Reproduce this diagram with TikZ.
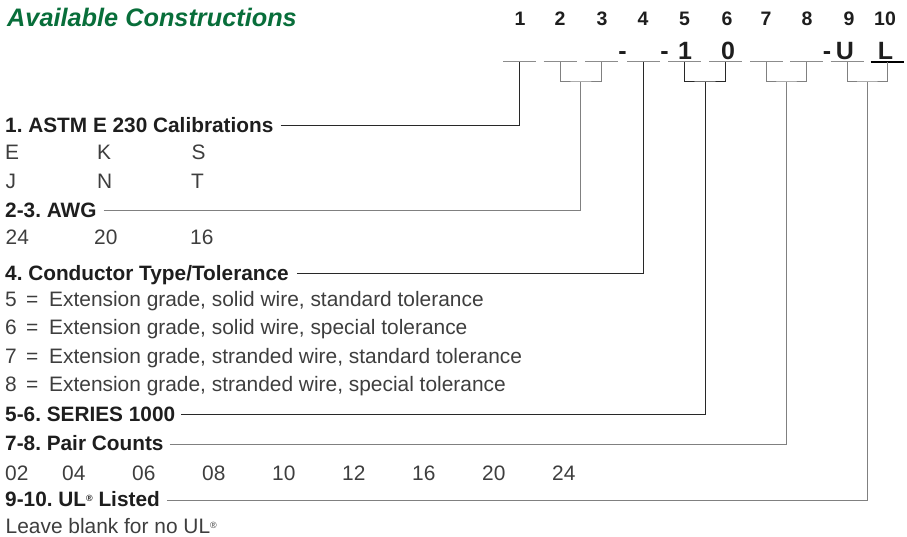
\documentclass[tikz,border=0pt]{standalone}
\usepackage{fontspec}
\setmainfont{Liberation Sans}
\usetikzlibrary{calc}
\frenchspacing
\definecolor{titlegreen}{RGB}{8,110,58}
\definecolor{inkdark}{RGB}{30,30,30}
\definecolor{inkbody}{RGB}{62,62,62}
\definecolor{ruledark}{RGB}{40,40,40}
\definecolor{rulelight}{RGB}{128,128,128}
\definecolor{slotgray}{RGB}{140,140,140}
\newcommand\regmark{\raisebox{5.5pt}{\fontsize{9}{9}\selectfont\textregistered}}
\newcommand\optline[2]{\makebox[21pt][l]{#1}\makebox[23pt][l]{=}#2}

\begin{document}
\begin{tikzpicture}[x=1pt,y=-1pt,
  titletext/.style={anchor=base west, inner sep=0pt, text=titlegreen,
    font=\fontsize{25.3}{30}\selectfont\bfseries\itshape},
  posnum/.style={anchor=base, inner sep=0pt, text=inkdark,
    font=\fontsize{19.5}{23}\selectfont\bfseries},
  codechar/.style={anchor=base, inner sep=0pt, text=inkdark,
    font=\fontsize{25}{30}\selectfont\bfseries},
  head/.style={anchor=west, inner sep=0pt, text height=13pt, text depth=0pt,
    text=inkdark, font=\fontsize{20.8}{24}\selectfont\bfseries},
  body/.style={anchor=base west, inner sep=0pt, text=inkbody,
    font=\fontsize{20.9}{24}\selectfont},
  slotline/.style={draw=slotgray, line width=1pt},
  lastslot/.style={draw=black, line width=1.3pt},
  darkrule/.style={draw=ruledark, line width=1pt},
  lightrule/.style={draw=rulelight, line width=1pt},
]
\useasboundingbox (0,0) rectangle (907,537);

% title
\node[titletext] (title) at (7,27) {Available Constructions};

% code slots (points on the underlines)
\coordinate (s1) at (519.5,62);
\coordinate (s2) at (560,62);
\coordinate (s3) at (601.5,62);
\coordinate (s4) at (643.5,62);
\coordinate (s5) at (684.5,62);
\coordinate (s6) at (725.5,62);
\coordinate (s7) at (766.5,62);
\coordinate (s8) at (806.5,62);
\coordinate (s9) at (847,62);
\coordinate (s10) at (887,62);

\foreach \s in {s1,s2,s3,s4,s5,s6,s7,s8,s9}
  \draw[slotline] ([xshift=-16.5pt]\s) -- ([xshift=16.5pt]\s);
\draw[lastslot] ([xshift=-16.5pt]s10) -- ([xshift=17pt]s10);

% position numbers
\node[posnum] (n1) at (520,26) {1};
\node[posnum] (n2) at (560,26) {2};
\node[posnum] (n3) at (602,26) {3};
\node[posnum] (n4) at (643,26) {4};
\node[posnum] (n5) at (684.5,26) {5};
\node[posnum] (n6) at (727,26) {6};
\node[posnum] (n7) at (766,26) {7};
\node[posnum] (n8) at (807,26) {8};
\node[posnum] (n9) at (849,26) {9};
\node[posnum] (n10) at (885,26) {10};

% fixed characters of the code
\node[codechar] (d1) at (622.5,60) {-};
\node[codechar] (d2) at (664.5,60) {-};
\node[codechar] (c5) at (685,60) {1};
\node[codechar] (c6) at (728,60) {0};
\node[codechar] (d3) at (827,60) {-};
\node[codechar] (c9) at (845,60) {U};
\node[codechar] (c10) at (885.5,60) {L};

% bracket bottoms for paired positions
\coordinate (b23) at ($(s2)!.5!(s3)+(0,20)$);
\coordinate (b56) at ($(s5)!.5!(s6)+(0,20)$);
\coordinate (b78) at ($(s7)!.5!(s8)+(0,20)$);
\coordinate (b910) at ($(s9)!.5!(s10)+(0,20)$);

\draw[lightrule] (s2) |- (b23) -| (s3);
\draw[darkrule] (s5) |- (b56) -| (s6);
\draw[lightrule] (s7) |- (b78) -| (s8);
\draw[lightrule] (s9) |- (b910) -| (s10);

% section headings
\node[head] (hA) at (5,126) {1. ASTM E 230 Calibrations};
\node[head] (hB) at (5,211) {2-3. AWG};
\node[head] (hC) at (5,273.5) {4. Conductor Type/Tolerance};
\node[head] (hD) at (5,414.5) {5-6. SERIES 1000};
\node[head] (hE) at (5,444) {7-8. Pair Counts};
\node[head] (hF) at (5,500) {9-10. UL\regmark{} Listed};

% leaders from headings to the code positions
\draw[darkrule] ([xshift=7pt]hA.east) -| (s1);
\draw[lightrule] ([xshift=7pt]hB.east) -| (b23);
\draw[darkrule] ([xshift=8pt]hC.east) -| (s4);
\draw[darkrule] ([xshift=6pt]hD.east) -| (b56);
\draw[lightrule] ([xshift=6pt]hE.east) -| (b78);
\draw[lightrule] ([xshift=7pt]hF.east) -| (b910);

% calibrations
\node[body] (tE) at (5,160) {E};
\node[body] (tK) at (97,160) {K};
\node[body] (tS) at (191.5,160) {S};
\node[body] (tJ) at (5.5,189) {J};
\node[body] (tN) at (97,189) {N};
\node[body] (tT) at (191,189) {T};

% wire gauges
\node[body] (g24) at (5.5,245) {24};
\node[body] (g20) at (94,245) {20};
\node[body] (g16) at (190,245) {16};

% conductor types
\node[body] (k5) at (5,306.5) {\optline{5}{Extension grade, solid wire, standard tolerance}};
\node[body] (k6) at (5,334.5) {\optline{6}{Extension grade, solid wire, special tolerance}};
\node[body] (k7) at (5,363) {\optline{7}{Extension grade, stranded wire, standard tolerance}};
\node[body] (k8) at (5,391.5) {\optline{8}{Extension grade, stranded wire, special tolerance}};

% pair counts
\node[body] (p02) at (5,480) {02};
\node[body] (p04) at (62,480) {04};
\node[body] (p06) at (132,480) {06};
\node[body] (p08) at (202,480) {08};
\node[body] (p10) at (272,480) {10};
\node[body] (p12) at (342,480) {12};
\node[body] (p16) at (412,480) {16};
\node[body] (p20) at (482,480) {20};
\node[body] (p24) at (552,480) {24};

% UL note
\node[body] (ulnote) at (5.5,533.5) {Leave blank for no UL\regmark};
\end{tikzpicture}
\end{document}
